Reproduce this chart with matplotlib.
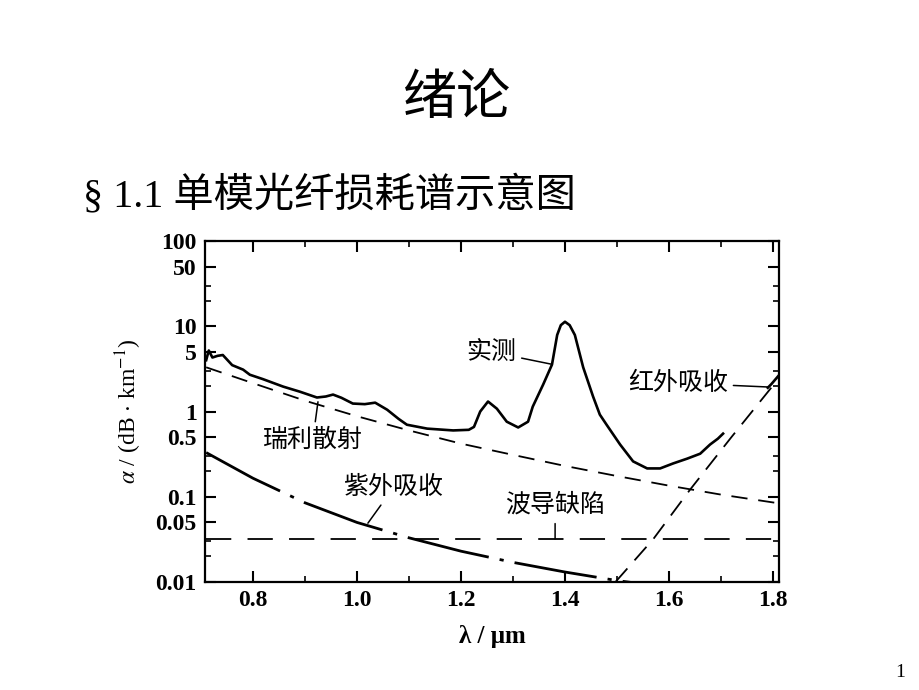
import numpy as np
import matplotlib
matplotlib.use("Agg")
import matplotlib.pyplot as plt

plt.rcParams['font.family'] = ['Liberation Serif', 'Noto Sans CJK SC', 'DejaVu Sans']
plt.rcParams['mathtext.fontset'] = 'stix'

# measured loss (实测)
measX = [0.71, 0.715, 0.722, 0.732, 0.742, 0.76, 0.781, 0.794, 0.819, 0.858, 0.89, 0.923,
         0.94, 0.954, 0.97, 0.992, 1.015, 1.035, 1.058, 1.08, 1.096, 1.135, 1.185, 1.215,
         1.225, 1.237, 1.252, 1.269, 1.288, 1.31, 1.329, 1.338, 1.358, 1.375, 1.385, 1.392,
         1.40, 1.409, 1.419, 1.435, 1.454, 1.467, 1.48, 1.506, 1.531, 1.558, 1.583, 1.608,
         1.635, 1.66, 1.679, 1.694, 1.704]
measY = [4.0, 5.2, 4.3, 4.5, 4.6, 3.5, 3.1, 2.7, 2.4, 1.96, 1.71, 1.46,
         1.5, 1.58, 1.45, 1.24, 1.22, 1.27, 1.05, 0.82, 0.70, 0.63, 0.60, 0.61,
         0.66, 1.0, 1.31, 1.08, 0.76, 0.65, 0.76, 1.14, 2.07, 3.55, 7.9, 10.3,
         11.3, 10.3, 7.9, 3.3, 1.5, 0.92, 0.70, 0.41, 0.26, 0.215, 0.215, 0.246,
         0.28, 0.32, 0.41, 0.48, 0.55]
measTailX = [1.79, 1.797, 1.81]
measTailY = [1.9, 2.1, 2.6]

# Rayleigh scattering (瑞利散射)
rayX = [0.71, 0.8, 0.9, 1.0, 1.1, 1.2, 1.3, 1.4, 1.5, 1.6, 1.7, 1.81]
rayY = [3.3, 2.15, 1.34, 0.88, 0.60, 0.42, 0.31, 0.23, 0.175, 0.135, 0.106, 0.084]

# UV absorption (紫外吸收)
uvX = [0.71, 0.8, 0.9, 1.0, 1.1, 1.2, 1.3, 1.4, 1.5, 1.56]
uvY = [0.33, 0.165, 0.085, 0.05, 0.033, 0.023, 0.017, 0.0131, 0.0104, 0.0093]

# waveguide imperfection (波导缺陷)
wgX = [0.71, 1.81]
wgY = [0.032, 0.032]

# IR absorption (红外吸收)
irX = [1.497, 1.57, 1.64, 1.72, 1.81]
irY = [0.01, 0.032, 0.12, 0.5, 2.4]

yTicks = [0.01, 0.05, 0.1, 0.5, 1, 5, 10, 50, 100]
yTickLabels = ['0.01', '0.05', '0.1', '0.5', '1', '5', '10', '50', '100']
yMinor = [0.02, 0.03, 0.2, 0.3, 2, 3, 20, 30]
xTicks = [0.8, 1.0, 1.2, 1.4, 1.6, 1.8]
xTickLabels = ['0.8', '1.0', '1.2', '1.4', '1.6', '1.8']
xMinor = [0.9, 1.1, 1.3, 1.5, 1.7]


def main():
    fig = plt.figure(figsize=(9.2, 6.9), dpi=100)
    fig.text(0.497, 0.857, '绪论', fontsize=39, ha='center', va='center',
             family=['Noto Sans CJK SC'])
    fig.text(0.09, 0.717, '§ 1.1 单模光纤损耗谱示意图', fontsize=29, ha='left', va='center',
             family=['Liberation Serif', 'Noto Sans CJK SC'])
    fig.text(0.984, 0.026, '1', fontsize=14, ha='right', va='center')

    ax = fig.add_axes([0.2228, 0.1565, 0.6239, 0.4942])
    ax.set_yscale('log')

    ax.plot(measX, measY, color='black', lw=1.9)
    ax.plot(measTailX, measTailY, color='black', lw=1.9)
    ax.plot(rayX, rayY, color='black', lw=1.3, linestyle=(0, (9, 6)))
    ax.plot(uvX, uvY, color='black', lw=2.0, linestyle=(0, (30, 4, 1.5, 4)))
    ax.plot(wgX, wgY, color='black', lw=1.3, linestyle=(0, (14, 9)))
    ax.plot(irX, irY, color='black', lw=1.3, linestyle=(0, (10, 6)))

    cjk = ['Noto Sans CJK SC']
    lineProps = dict(arrowstyle='-', color='black', lw=1.1, shrinkA=2, shrinkB=0)
    ax.annotate('实测', xy=(1.373, 3.6), xytext=(1.258, 5.0), fontsize=18,
                ha='center', va='center', family=cjk, arrowprops=lineProps)
    ax.annotate('红外吸收', xy=(1.79, 1.94), xytext=(1.617, 2.16), fontsize=18,
                ha='center', va='center', family=cjk, arrowprops=lineProps)
    ax.annotate('瑞利散射', xy=(0.925, 1.3), xytext=(0.915, 0.46), fontsize=18,
                ha='center', va='center', family=cjk, arrowprops=lineProps)
    ax.annotate('紫外吸收', xy=(1.021, 0.049), xytext=(1.071, 0.13), fontsize=18,
                ha='center', va='center', family=cjk, arrowprops=lineProps)
    ax.annotate('波导缺陷', xy=(1.381, 0.032), xytext=(1.381, 0.08), fontsize=18,
                ha='center', va='center', family=cjk, arrowprops=lineProps)

    ax.set_xlim(0.7077, 1.8115)
    ax.set_ylim(0.01, 100)
    ax.set_xticks(xTicks, xTickLabels)
    ax.set_xticks(xMinor, minor=True)
    ax.set_yticks(yTicks, yTickLabels)
    ax.set_yticks(yMinor, minor=True)
    ax.yaxis.set_minor_formatter(matplotlib.ticker.NullFormatter())
    ax.tick_params(which='both', direction='in', top=True, right=True)
    ax.tick_params(which='major', length=8, width=1.5, labelsize=17, pad=6)
    ax.tick_params(which='minor', length=4, width=1.2)
    for lab in ax.get_xticklabels() + ax.get_yticklabels():
        lab.set_fontweight('bold')
    for sp in ax.spines.values():
        sp.set_linewidth(1.6)

    ax.set_xlabel('λ / μm', fontsize=18, fontweight='bold', labelpad=10)
    ax.set_ylabel(r'$\alpha$ / (dB $\cdot$ km$^{-1}$)', fontsize=17, labelpad=8)

    fig.savefig('out.png', dpi=100)


main()
